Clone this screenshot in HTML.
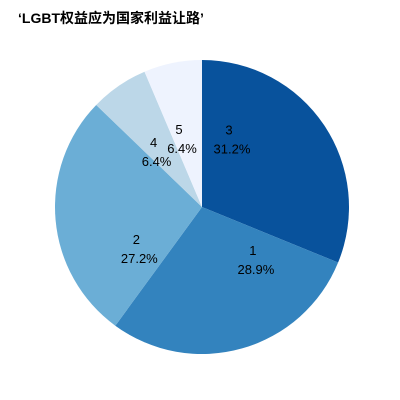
<!DOCTYPE html>
<html><head><meta charset="utf-8"><style>
html,body{margin:0;padding:0;background:#fff;width:400px;height:400px;overflow:hidden}
svg{display:block}
text{font-family:"Liberation Sans","Noto Sans CJK SC",sans-serif}
</style></head><body>
<svg id="chart" width="400" height="400">
<text x="18" y="23" font-size="14" font-weight="bold" fill="#000">‘LGBT权益应为国家利益让路’</text>
<g id="slices"></g><g id="labels"></g>
</svg>
<script>
const categories = ["3", "1", "2", "4", "5"];
const values = [31.2, 28.9, 27.2, 6.4, 6.4];
const percentLabels = ["31.2%", "28.9%", "27.2%", "6.4%", "6.4%"];
const colors = ["#08529c", "#3383be", "#6baed6", "#bcd7e8", "#eef3fe"];
const cx = 202, cy = 207, r = 147;
const total = values.reduce((a,b)=>a+b,0);
const ns = "http://www.w3.org/2000/svg";
const gs = document.getElementById('slices'), gl = document.getElementById('labels');
function pt(a, rad){ return [cx + rad*Math.sin(a), cy - rad*Math.cos(a)]; }
let acc = 0;
values.forEach((v,i)=>{
  const a0 = acc/total*2*Math.PI; acc += v; const a1 = acc/total*2*Math.PI;
  const p0 = pt(a0,r), p1 = pt(a1,r);
  const large = (a1-a0) > Math.PI ? 1 : 0;
  const path = document.createElementNS(ns,'path');
  path.setAttribute('d',`M${cx},${cy} L${p0[0]},${p0[1]} A${r},${r} 0 ${large} 1 ${p1[0]},${p1[1]} Z`);
  path.setAttribute('fill',colors[i]);
  
  
  gs.appendChild(path);
  const small = (a1-a0) < 0.6;
  const am = a0 + (a1-a0)*(small ? 0.3 : 0.21);
  const lp = pt(am, small ? 72 : 75);
  const t = document.createElementNS(ns,'text');
  t.setAttribute('x',lp[0]); t.setAttribute('y',lp[1]-4);
  t.setAttribute('font-size','13'); t.setAttribute('text-anchor','middle');
  
  
  const s1 = document.createElementNS(ns,'tspan');
  s1.setAttribute('x',lp[0]-3); s1.textContent = categories[i];
  const s2 = document.createElementNS(ns,'tspan');
  s2.setAttribute('x',lp[0]); s2.setAttribute('dy','19'); s2.textContent = percentLabels[i];
  t.appendChild(s1); t.appendChild(s2);
  gl.appendChild(t);
});
</script>
</body></html>
